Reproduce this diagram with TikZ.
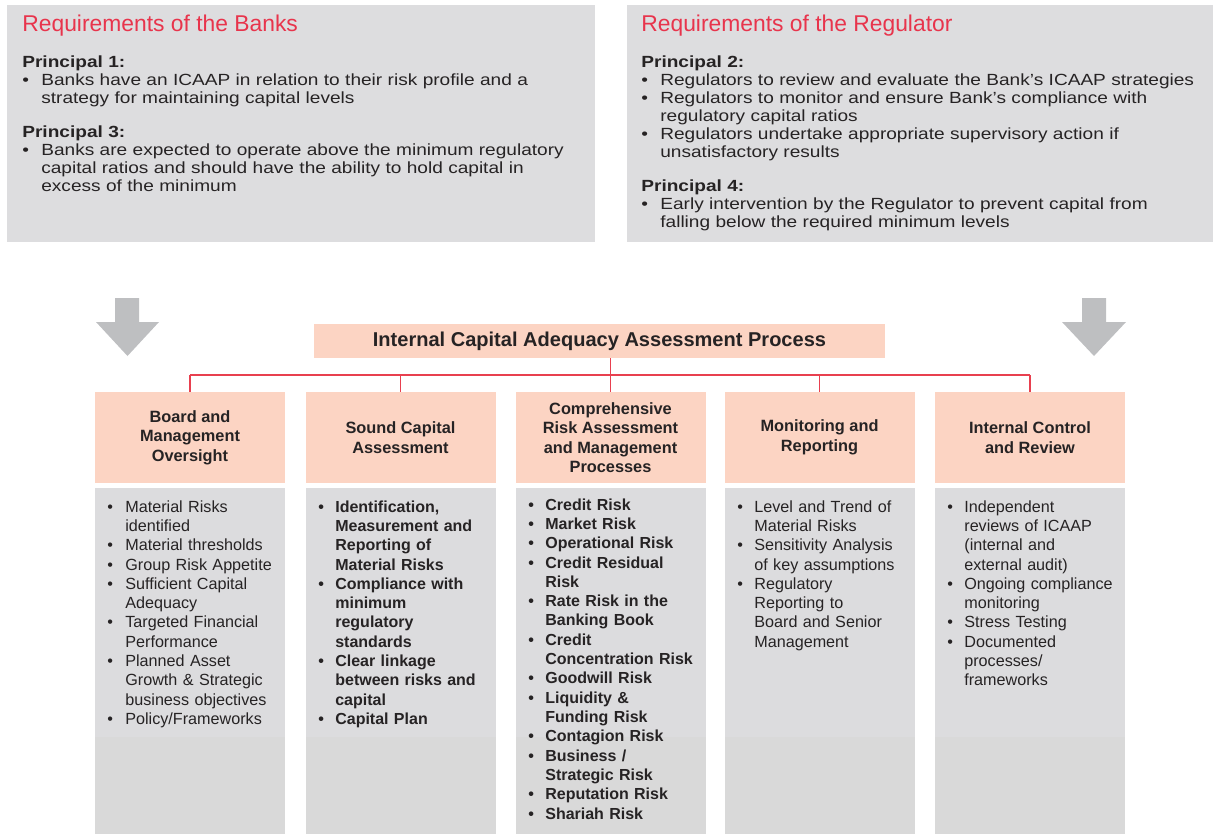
\documentclass[tikz,border=0pt]{standalone}
\usepackage{fontspec}
\setmainfont{Liberation Sans}
\newfontfamily\wideface[FakeStretch=1.18]{Liberation Sans}

\definecolor{panelgray}{HTML}{DDDDDF}
\definecolor{colgray}{HTML}{DCDCDE}
\definecolor{colgraylow}{HTML}{D9D9D9}
\definecolor{salmon}{HTML}{FCD4C3}
\definecolor{redline}{HTML}{E8404F}
\definecolor{redtitle}{HTML}{E8344C}
\definecolor{arrowgray}{HTML}{BEBFC1}
\definecolor{txt}{HTML}{262324}

\newlength\bulind
\newcommand\bul[1]{\hangindent=\bulind\hangafter=1\noindent\makebox[\bulind][l]{\textbullet}#1\par}
\newcommand\nl{\newline}

\begin{document}
\begin{tikzpicture}[x=0.2mm,y=-0.2mm]
\tikzstyle{panel}=[fill=panelgray]
\tikzstyle{title}=[anchor=base west, inner sep=0, text=redtitle, font=\fontsize{13pt}{15pt}\selectfont]
\tikzstyle{toptext}=[anchor=base west, inner sep=0, text=txt, text width=116mm, font=\wideface\fontsize{9.2pt}{10.24pt}\selectfont]
\tikzstyle{icaapbox}=[fill=salmon, minimum width=114.2mm, minimum height=6.8mm, inner sep=0, text=txt, font=\bfseries\fontsize{11.4pt}{13pt}\selectfont]
\tikzstyle{head}=[fill=salmon, minimum width=38mm, minimum height=18.2mm, inner sep=0, align=center, text=txt, font=\bfseries\fontsize{9.3pt}{11.1pt}\selectfont]
\tikzstyle{coltext}=[anchor=base west, inner sep=0, text=txt, text width=45mm, font=\fontsize{9.2pt}{11pt}\selectfont]
\tikzstyle{colbold}=[coltext, font=\bfseries\fontsize{9.1pt}{11pt}\selectfont]
\tikzstyle{conn}=[draw=redline, line width=0.9pt]
\tikzstyle{bigarrow}=[fill=arrowgray]

\useasboundingbox (0,0) rectangle (1213,834);

% requirement panels
\fill[panel] (7,5) rectangle (595,242);
\fill[panel] (627,5) rectangle (1213,242);
\node[title] (banks) at (22,32) {Requirements of the Banks};
\node[title] (regulator) at (641,32) {Requirements of the Regulator};

\node[toptext] (banktext) at (22,68) {\setlength\bulind{3.8mm}%
\noindent\textbf{Principal 1:}\par
\bul{Banks have an ICAAP in relation to their risk profile and a\nl strategy for maintaining capital levels}
\vspace{3.2mm}\noindent\textbf{Principal 3:}\par
\bul{Banks are expected to operate above the minimum regulatory\nl capital ratios and should have the ability to hold capital in\nl excess of the minimum}};

\node[toptext] (regtext) at (641,68) {\setlength\bulind{3.8mm}%
\noindent\textbf{Principal 2:}\par
\bul{Regulators to review and evaluate the Bank’s ICAAP strategies}
\bul{Regulators to monitor and ensure Bank’s compliance with\nl regulatory capital ratios}
\bul{Regulators undertake appropriate supervisory action if\nl unsatisfactory results}
\vspace{3.2mm}\noindent\textbf{Principal 4:}\par
\bul{Early intervention by the Regulator to prevent capital from\nl falling below the required minimum levels}};

% arrows down
\fill[bigarrow] (115,298) -- (139,298) -- (139,322) -- (159,322) -- (127.5,356) -- (96,322) -- (115,322) -- cycle;
\fill[bigarrow] (1082,298) -- (1106,298) -- (1106,322) -- (1126,322) -- (1094,356) -- (1062,322) -- (1082,322) -- cycle;

\node[icaapbox] (icaap) at (599.5,341) {Internal Capital Adequacy Assessment Process};

% columns
\foreach \c/\n/\t in {190/h1/{Board and\\Management\\Oversight},
  400.5/h2/{Sound Capital\\Assessment},
  610.5/h3/{Comprehensive\\Risk Assessment\\and Management\\Processes},
  819.5/h4/{Monitoring and\\Reporting},
  1030/h5/{Internal Control\\and Review}}
{
  \fill[colgray] (\c-95,488) rectangle (\c+95,737);
  \fill[colgraylow] (\c-95,737) rectangle (\c+95,834);
  \node[head] (\n) at (\c,437.5) {\t};
}

\node[coltext] (c1) at (107,512) {\setlength\bulind{3.6mm}%
\bul{Material Risks\nl identified}
\bul{Material thresholds}
\bul{Group Risk Appetite}
\bul{Sufficient Capital\nl Adequacy}
\bul{Targeted Financial\nl Performance}
\bul{Planned Asset\nl Growth \& Strategic\nl business objectives}
\bul{Policy/Frameworks}};

\node[colbold] (c2) at (318,512) {\setlength\bulind{3.4mm}%
\bul{Identification,\nl Measurement and\nl Reporting of\nl Material Risks}
\bul{Compliance with\nl minimum\nl regulatory\nl standards}
\bul{Clear linkage\nl between risks and\nl capital}
\bul{Capital Plan}};

\node[colbold] (c3) at (528,510) {\setlength\bulind{3.4mm}%
\bul{Credit Risk}
\bul{Market Risk}
\bul{Operational Risk}
\bul{Credit Residual\nl Risk}
\bul{Rate Risk in the\nl Banking Book}
\bul{Credit\nl Concentration Risk}
\bul{Goodwill Risk}
\bul{Liquidity \&\nl Funding Risk}
\bul{Contagion Risk}
\bul{Business /\nl Strategic Risk}
\bul{Reputation Risk}
\bul{Shariah Risk}};

\node[coltext] (c4) at (737,512) {\setlength\bulind{3.4mm}%
\bul{Level and Trend of\nl Material Risks}
\bul{Sensitivity Analysis\nl of key assumptions}
\bul{Regulatory\nl Reporting to\nl Board and Senior\nl Management}};

\node[coltext] (c5) at (947,512) {\setlength\bulind{3.4mm}%
\bul{Independent\nl reviews of ICAAP\nl (internal and\nl external audit)}
\bul{Ongoing compliance\nl monitoring}
\bul{Stress Testing}
\bul{Documented\nl processes/\nl frameworks}};

% red connectors
\coordinate (bus) at (610,375);
\draw[conn] (h1.north |- bus) -- (h5.north |- bus);
\foreach \n in {h1,h2,h4,h5}
  \draw[conn] (\n.north) -- (\n.north |- bus);
\draw[conn] (icaap.south -| h3.north) -- (h3.north);
\end{tikzpicture}
\end{document}
